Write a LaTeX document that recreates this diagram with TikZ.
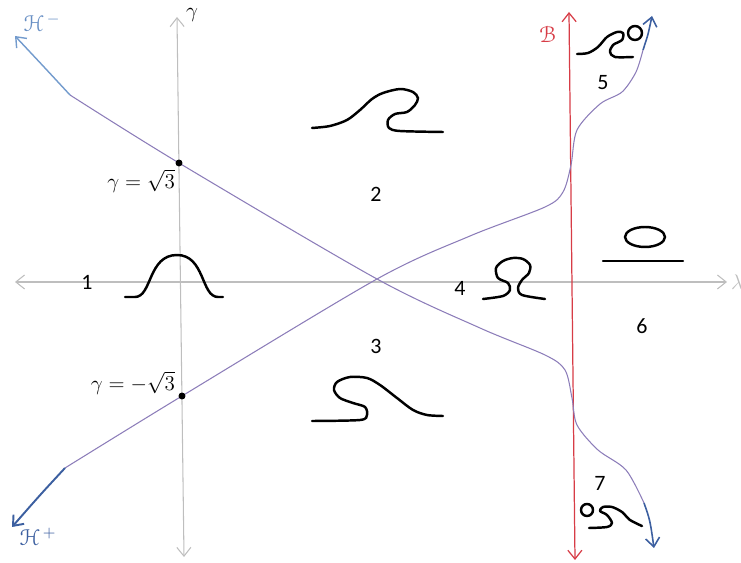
\documentclass[tikz,border=0pt]{standalone}
\usepackage{fontspec}
\usepackage[mathcal]{euscript}
\newfontfamily\numfont{Carlito}
\usetikzlibrary{arrows.meta}
\definecolor{axgray}{RGB}{190,190,190}
\definecolor{crv}{RGB}{140,125,185}
\definecolor{hblue}{RGB}{60,95,160}
\definecolor{hlight}{RGB}{115,155,205}
\definecolor{bred}{RGB}{215,60,70}

\begin{document}
\begin{tikzpicture}[x=0.02cm,y=-0.02cm,>={Straight Barb[length=5pt,width=8pt]},
  ax/.style={axgray,line width=0.6pt,<->},
  cv/.style={crv,line width=0.6pt},
  sk/.style={line width=1.4pt,line cap=round,line join=round},
  num/.style={font=\numfont\fontsize{12.5}{14}\selectfont},
  lb/.style={font=\fontsize{13}{15}\selectfont,inner sep=1pt},
  pt/.style={circle,fill=black,inner sep=1.4pt}]
\useasboundingbox (0,0) rectangle (741,563);
% axes
\coordinate (lamL) at (15,282);
\coordinate (lamR) at (727,282);
\coordinate (gamB) at (184,557);
\coordinate (gamT) at (177,17);
\draw[ax] (lamL) -- (lamR) node[right=1pt,lb] (lam) {$\lambda$};
\draw[ax] (gamB) -- (gamT);
\node[lb] (gam) at (192,15) {$\gamma$};
% the line B
\coordinate (bB) at (575,560);
\coordinate (bT) at (569,12);
\draw[bred,line width=0.7pt,<->] (bB) -- (bT);
\node[bred,lb] (bl) at (548,34) {$\mathcal{B}$};
% the two curves
\draw[cv] plot[smooth,tension=0.5] coordinates {(70,95) (179,163) (377,279) (480,328) (545,355) (565,370) (572,398) (577,425) (598,450) (626,470) (644,503)};
\draw[hlight,line width=0.8pt,->] (70,95) .. controls (45,68) .. (15,36);
\draw[hblue,line width=0.9pt,->] (644,503) .. controls (650,520) .. (654,548);
\draw[cv] plot[smooth,tension=0.5] coordinates {(65,468) (182,396) (377,279) (470,236) (545,207) (563,192) (571,165) (577,130) (600,104) (622,92) (636,72) (643,50)};
\draw[hblue,line width=1.1pt,->] (65,468) .. controls (40,495) .. (12,527);
\draw[hblue,line width=0.9pt,->] (643,50) .. controls (648,35) .. (652,16);
\node[hlight!80!hblue,lb] (hm) at (42,23) {$\mathcal{H}^{\,-}$};
\node[hblue,lb] (hp) at (38,537) {$\mathcal{H}^{\,+}$};
% points on the gamma axis
\node[pt] (p1) at (179,163) {};
\node[pt] (p2) at (182,396) {};
\node[lb,anchor=east] (l1) at (177,181) {$\gamma=\sqrt{3}$};
\node[lb,anchor=east] (l2) at (177,383) {$\gamma=-\sqrt{3}$};
% regions
\node[num] (r1) at (87,282) {1};
\node[num] (r2) at (376,194) {2};
\node[num] (r3) at (376,346) {3};
\node[num] (r4) at (460,288) {4};
\node[num] (r5) at (603,83) {5};
\node[num] (r6) at (642,326) {6};
\node[num] (r7) at (600,483) {7};
% sketches
\draw[sk] (125,297) -- (135,297) .. controls (152,297) and (148,255) .. (177,255)
  .. controls (205,255) and (201,297) .. (218,297) -- (223,297);
\draw[sk] plot[smooth] coordinates {(312,128) (330,126) (347,120) (360,110) (372,99) (383,93) (400,89) (413,92) (418,98) (415,105) (407,112) (395,114) (388,120) (389,128) (400,131) (443,132)};
\draw[sk] plot[smooth] coordinates {(312,421) (360,420) (367,415) (365,407) (353,403) (340,398) (334,390) (337,382) (350,377) (367,378) (380,385) (397,398) (413,410) (427,415) (443,416)};
\draw[sk] plot[smooth] coordinates {(483,299) (503,296) (510,290) (508,283) (498,278) (496,268) (503,261) (513,258) (523,259) (530,265) (529,273) (522,280) (518,288) (522,295) (545,299)};
\draw[sk] (645,237) ellipse[x radius=0.4cm,y radius=0.2cm];
\draw[sk] (603,261) -- (683,261);
\draw[sk] plot[smooth] coordinates {(577,54) (588,53) (598,47) (607,37) (617,32) (623,33) (622,40) (613,45) (610,52) (615,57) (633,57)};
\draw[sk] (635,33) circle[radius=0.14cm];
\draw[sk] (587,510) circle[radius=0.12cm];
\draw[sk] plot[smooth] coordinates {(589,528) (607,527) (612,523) (607,515) (600,511) (603,507) (612,507) (622,512) (630,520) (642,526)};
\end{tikzpicture}
\end{document}
